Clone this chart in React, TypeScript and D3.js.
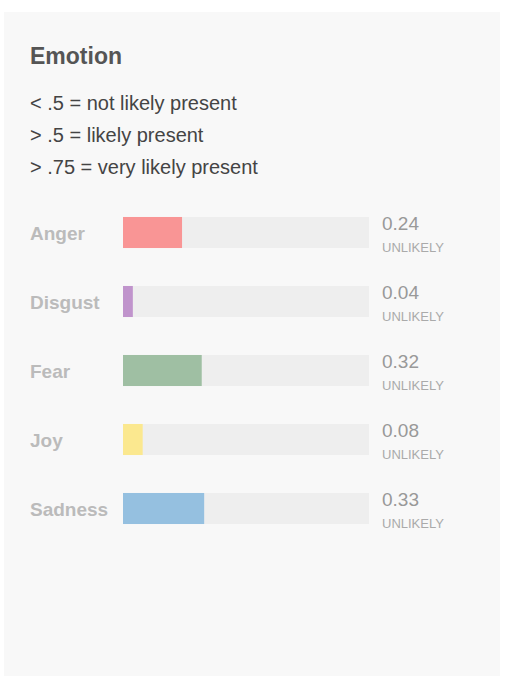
import React from 'react';
import * as d3 from 'd3';

const emotions = ['Anger', 'Disgust', 'Fear', 'Joy', 'Sadness'];
const scores = [0.24, 0.04, 0.32, 0.08, 0.33];
const likelihood = ['UNLIKELY', 'UNLIKELY', 'UNLIKELY', 'UNLIKELY', 'UNLIKELY'];
const colors = ['#f99595', '#c094cc', '#9fbfa3', '#fbe88f', '#95c0e0'];
const legendLines = ['< .5 = not likely present', '> .5 = likely present', '> .75 = very likely present'];

const FONT = '"Liberation Sans", Arial, sans-serif';

const App: React.FC = () => {
  const x = d3.scaleLinear().domain([0, 1]).range([123, 369]);
  const y = d3.scaleBand<string>().domain(emotions).range([198, 543]).paddingInner(0.55).paddingOuter(0.275);
  const bw = y.bandwidth();

  return (
    <div style={{ position: 'absolute', left: 0, top: 0 }}>
      <svg width={514} height={687} style={{ display: 'block', fontFamily: FONT }}>
        <rect x={0} y={0} width={514} height={687} fill="#fff" />
        <rect x={4} y={12} width={496} height={664} fill="#f8f8f8" />
        <text x={30} y={64} fontSize={23} fontWeight="bold" fill="#555">Emotion</text>
        {legendLines.map((t, i) => (
          <text key={t} x={30} y={110 + i * 32} fontSize={20} fill="#444">{t}</text>
        ))}
        {emotions.map((e, i) => {
          const top = y(e)!;
          const cy = top + bw / 2;
          return (
            <g key={e}>
              <text x={30} y={cy + 7} fontSize={19} fontWeight="bold" fill="#bbb">{e}</text>
              <rect x={x(0)} y={top} width={x(1) - x(0)} height={bw} fill="#eeeeee" />
              <rect x={x(0)} y={top} width={x(scores[i]) - x(0)} height={bw} fill={colors[i]} />
              <text x={382} y={cy - 3} fontSize={19} fill="#999">{scores[i].toFixed(2)}</text>
              <text x={382} y={cy + 19} fontSize={13} fill="#aaa">{likelihood[i]}</text>
            </g>
          );
        })}
      </svg>
    </div>
  );
};

export default App;
